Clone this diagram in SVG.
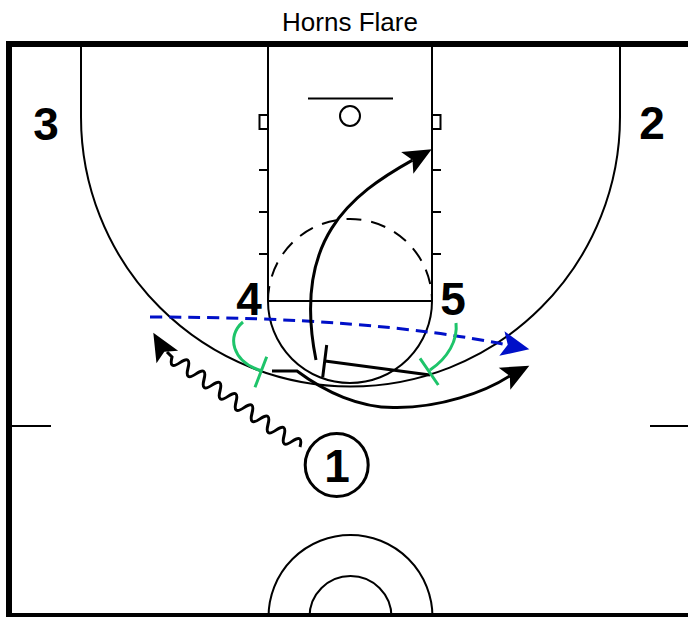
<svg xmlns="http://www.w3.org/2000/svg" xmlns:xlink="http://www.w3.org/1999/xlink" width="688" height="617" viewBox="0 0 688 617">
  <style>
    .court { fill: none; stroke: #000; stroke-width: 2; }
    .border { fill: none; stroke: #000; stroke-width: 6; }
    .lbl { font-family: "Liberation Sans", Arial, sans-serif; font-weight: bold; font-size: 46px; fill: #000; text-anchor: middle; }
    .title { font-family: "Liberation Sans", Arial, sans-serif; font-size: 26px; fill: #000; text-anchor: middle; }
    .move { fill: none; stroke: #000; stroke-width: 3; }
    .pass { fill: none; stroke: #0010c8; stroke-width: 3; stroke-dasharray: 12 7; }
    .green { fill: none; stroke: #1ec46a; stroke-width: 3; }
  </style>
  <defs>
    <path id="ah" d="M0,0 L-28,-12.5 L-22,0 L-28,12.5 Z"/>
  </defs>
  <rect width="688" height="617" fill="#fff"/>
  <text class="title" x="350" y="31">Horns Flare</text>

  <g id="court">
    <rect class="border" x="9" y="44" width="700" height="572"/>
    <line class="court" x1="268" y1="47" x2="268" y2="301"/>
    <line class="court" x1="432" y1="47" x2="432" y2="301"/>
    <line class="court" x1="268" y1="301" x2="432" y2="301"/>
    <line class="court" x1="308" y1="98.5" x2="393" y2="98.5"/>
    <circle class="court" cx="350" cy="116" r="10"/>
    <rect class="court" x="259.5" y="115" width="8.5" height="14" stroke-width="1.5"/>
    <rect class="court" x="432" y="115" width="8.5" height="14" stroke-width="1.5"/>
    <path class="court" d="M259,170 H268 M259,212 H268 M259,254 H268 M432,170 H441 M432,212 H441 M432,254 H441"/>
    <path class="court" d="M268,301 A82,82 0 0 1 432,301" stroke-dasharray="15 10"/>
    <path class="court" d="M268,301 A82,82 0 0 0 432,301"/>
    <path class="court" d="M81,47 L81,117 A269.5,269.5 0 0 0 620,117 L620,47"/>
    <path class="court" d="M12,426 H51 M650,426 H688"/>
    <circle class="court" cx="350.5" cy="617" r="82"/>
    <circle class="court" cx="350.5" cy="617" r="41"/>
  </g>

  <g id="connectors">
    <path id="dribble" class="move" d="M300,447 Q303.475,433.56 292,441.375 T284,435.75 T276,430.125 T268,424.5 T260,418.875 T252,413.25 T244,407.625 T236,402 T228,396.375 T220,390.75 T212,385.125 T204,379.5 T196,373.875 T188,368.25 T180,362.625 T172,357 L167,352"/>
    <use xlink:href="#ah" href="#ah" transform="translate(153.3,332.7) rotate(-120)"/>
    <path id="pass" class="pass" d="M150,317 Q370,317 508,345"/>
    <use xlink:href="#ah" href="#ah" fill="#0010c8" transform="translate(529.3,349.3) rotate(11.9)"/>
    <path id="cut" class="move" d="M316,360 C292,240 350,195 412.5,160.1"/>
    <use xlink:href="#ah" href="#ah" transform="translate(431.7,149.3) rotate(-29.2)"/>
    <path id="screen" class="move" d="M430,375 L325,361 M326.7,345 L322.7,377.3"/>
    <path id="flare" class="move" d="M272,371 L297,371 C325,392 360,408 395,407.5 C440,408 485,392 509.8,375.9"/>
    <use xlink:href="#ah" href="#ah" transform="translate(529.3,365.7) rotate(-27.7)"/>
    <path id="green4" class="green" d="M243,322 C226,336 232,362 262,371 M266.7,356.7 L255,387.3"/>
    <path id="green5" class="green" d="M456,323 C458,340 448,358 430,370 M420,358.3 L438.3,385"/>
  </g>

  <g id="p1">
    <circle cx="336.7" cy="465" r="31.5" fill="none" stroke="#000" stroke-width="3"/>
    <text class="lbl" x="337" y="482">1</text>
  </g>
  <g id="p2"><text class="lbl" x="652" y="139">2</text></g>
  <g id="p3"><text class="lbl" x="46" y="140">3</text></g>
  <g id="p4"><text class="lbl" x="249" y="315">4</text></g>
  <g id="p5"><text class="lbl" x="453" y="315">5</text></g>
</svg>
